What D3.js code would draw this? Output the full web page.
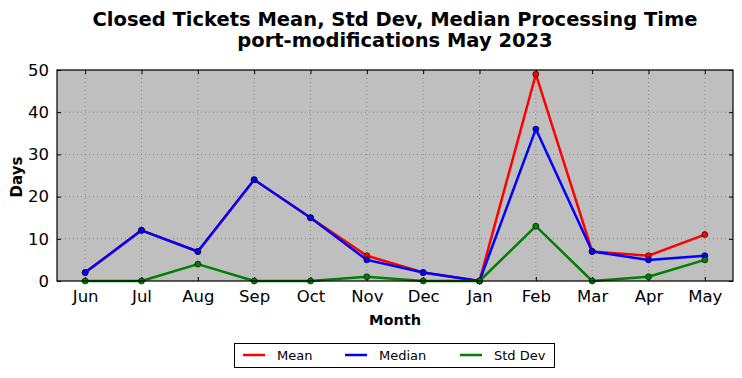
<!DOCTYPE html>
<html><head><meta charset="utf-8">
<script src="https://cdn.jsdelivr.net/npm/d3@7"></script>
<style>body{margin:0;background:#fff;}svg{display:block;font-family:"DejaVu Sans",sans-serif;}</style>
</head><body><svg id="c" width="742" height="378"></svg>
<script>
const months = ["Jun","Jul","Aug","Sep","Oct","Nov","Dec","Jan","Feb","Mar","Apr","May"];
const meanVals = [2,12,7,24,15,6,2,0,49,7,6,11];
const medianVals = [2,12,7,24,15,5,2,0,36,7,5,6];
const stdVals = [0,0,4,0,0,1,0,0,13,0,1,5];
const yTicks = [0,10,20,30,40,50];
const seriesNames = ["Mean","Median","Std Dev"];
const seriesColors = ["#ff0000","#0000ff","#008000"];

const svg = d3.select("#c");
const L=57,R=733,T=70,B=281;
const x = d3.scalePoint().domain(months).range([L,R]).padding(0.5);
const y = d3.scaleLinear().domain([0,50]).range([B,T]);

svg.append("rect").attr("x",L).attr("y",T).attr("width",R-L).attr("height",B-T).attr("fill","#bfbfbf");
// grid
const g = svg.append("g");
months.forEach(m=>g.append("line").attr("x1",x(m)).attr("x2",x(m)).attr("y1",T).attr("y2",B)
  .attr("stroke","#808080").attr("stroke-width",0.8).attr("stroke-dasharray","1,3"));
yTicks.forEach(v=>g.append("line").attr("x1",L).attr("x2",R).attr("y1",y(v)).attr("y2",y(v))
  .attr("stroke","#808080").attr("stroke-width",0.8).attr("stroke-dasharray","1,3"));

// axes (ticks inward)
const xa = svg.append("g").attr("transform",`translate(0,${B})`)
  .call(d3.axisBottom(x).tickSize(-4).tickPadding(9));
const xt = svg.append("g").attr("transform",`translate(0,${T})`)
  .call(d3.axisTop(x).tickSize(-4).tickFormat(""));
const ya = svg.append("g").attr("transform",`translate(${L},0)`)
  .call(d3.axisLeft(y).tickValues(yTicks).tickSize(-4).tickPadding(8));
const yr = svg.append("g").attr("transform",`translate(${R},0)`)
  .call(d3.axisRight(y).tickValues(yTicks).tickSize(-4).tickFormat(""));
[xa,xt,ya,yr].forEach(a=>{a.select(".domain").remove();a.selectAll("line").attr("stroke","#000");
  a.selectAll("text").attr("font-size",16.5).attr("font-family","DejaVu Sans").attr("fill","#000");});

const line = d3.line().x((d,i)=>x(months[i])).y(d=>y(d));
const data = [meanVals,medianVals,stdVals];
data.forEach((vals,k)=>{
  svg.append("path").attr("d",line(vals)).attr("fill","none").attr("stroke",seriesColors[k])
    .attr("stroke-width",2.5).attr("stroke-linejoin","round");
  svg.append("g").selectAll("circle").data(vals).join("circle")
    .attr("cx",(d,i)=>x(months[i])).attr("cy",d=>y(d)).attr("r",3)
    .attr("fill",seriesColors[k]).attr("stroke","#000").attr("stroke-width",0.6);
});
svg.append("rect").attr("x",L).attr("y",T).attr("width",R-L).attr("height",B-T)
  .attr("fill","none").attr("stroke","#000").attr("stroke-width",1.2);

// titles
svg.append("text").attr("x",395).attr("y",26).attr("text-anchor","middle").attr("font-size",19.5)
  .attr("font-weight","bold").text("Closed Tickets Mean, Std Dev, Median Processing Time");
svg.append("text").attr("x",395).attr("y",47).attr("text-anchor","middle").attr("font-size",19.5)
  .attr("font-weight","bold").text("port-modifications May 2023");
svg.append("text").attr("x",395).attr("y",325).attr("text-anchor","middle").attr("font-size",14.5)
  .attr("font-weight","bold").text("Month");
svg.append("text").attr("transform","translate(22,177) rotate(-90)").attr("text-anchor","middle")
  .attr("font-size",15).attr("font-weight","bold").text("Days");

// legend
const lg = svg.append("g");
lg.append("rect").attr("x",234.5).attr("y",343.5).attr("width",320).attr("height",24)
  .attr("fill","#fff").attr("stroke","#000").attr("stroke-width",1);
const lx=[243,345,460];
seriesNames.forEach((n,k)=>{
  lg.append("line").attr("x1",lx[k]).attr("x2",lx[k]+22).attr("y1",355).attr("y2",355)
    .attr("stroke",seriesColors[k]).attr("stroke-width",2.5);
  lg.append("text").attr("x",lx[k]+34).attr("y",360).attr("font-size",13).text(n);
});
</script></body></html>
